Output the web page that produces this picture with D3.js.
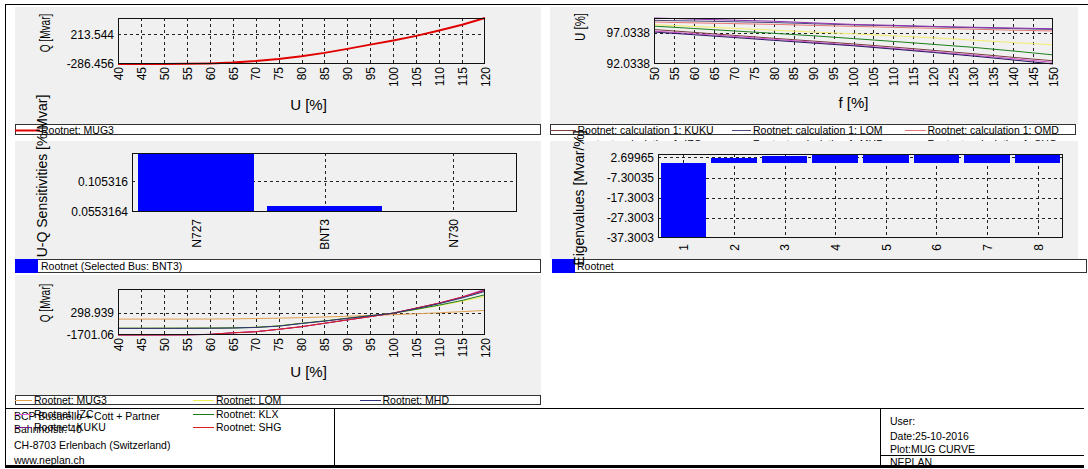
<!DOCTYPE html>
<html>
<head>
<meta charset="utf-8">
<script src="https://cdn.jsdelivr.net/npm/d3@7"></script>
<style>
  html, body { margin: 0; padding: 0; background: #fff; }
  svg { display: block; }
</style>
</head>
<body>
<svg id="sheet" width="1088" height="469"></svg>
<script>
// ---------- data ----------
// Q(U) curve of MUG3 (top-left), U in %
const uSteps = [40,45,50,55,60,65,70,75,80,85,90,95,100,105,110,115,120];
const qMUG3  = [-286.456,-286,-285,-283,-276,-262,-236,-200,-155,-98,-30,42,112,190,280,380,493];
const qTicksMUG3 = [-286.456, 213.544];

// U(f) at several buses (top-right), f in %
const fSteps = [50,60,70,80,90,100,110,120,130,140,150];
const fTicks = [50,55,60,65,70,75,80,85,90,95,100,105,110,115,120,125,130,135,140,145,150];
const vKUKU = [97.55,97.10,96.62,96.15,95.70,95.25,94.75,94.22,93.68,93.10,92.55];
const vLOM  = [99.02,98.92,98.80,98.67,98.48,98.29,98.15,97.99,97.84,97.70,97.57];
const vOMD  = [98.76,98.62,98.50,98.38,98.22,98.06,97.90,97.75,97.60,97.45,97.32];
const vIZC  = [97.30,96.88,96.45,96.00,95.52,95.05,94.55,94.00,93.45,92.88,92.30];
const vKLX  = [98.10,97.72,97.33,96.95,96.55,96.10,95.65,95.18,94.70,94.12,93.50];
const vMHD  = [97.15,96.72,96.28,95.82,95.38,94.95,94.42,93.88,93.30,92.68,92.0338];
const vMUG3 = [98.32,98.05,97.75,97.45,97.15,96.87,96.55,96.22,95.85,95.48,95.10];
const vSHG  = [99.40,99.22,99.05,98.88,98.62,98.37,98.22,98.05,97.92,97.80,97.68];
const uTicksF = [92.0338, 97.0338];

// U-Q sensitivities (mid-left)
const busNames   = ["N727","BNT3","N730"];
const sensValues = [0.1517, 0.0656, 0.0553164];
const sensTicks  = [0.0553164, 0.105316];

// Eigenvalues (mid-right)
const modeNames   = ["1","2","3","4","5","6","7","8"];
const eigenValues = [-37.3003, 2.45, 3.15, 3.7, 4.3, 4.32, 4.34, 4.36];
const eigenTicks  = [-37.3003, -27.3003, -17.3003, -7.30035, 2.69965];

// Q(U) curves of all generators (bottom-left)
const qLOM  = [-1090,-1090,-1088,-1085,-1078,-1060,-1010,-890,-650,-440,-200,30,245,570,920,1310,1735];
const qMHD  = [-1110,-1110,-1108,-1105,-1098,-1080,-1030,-910,-675,-465,-220,15,240,640,1090,1600,2183];
const qIZC  = [-1690,-1690,-1688,-1680,-1640,-1500,-1405,-1190,-957,-652,-355,-60,250,700,1150,1700,2398];
const qKLX  = [-1100,-1100,-1098,-1095,-1088,-1070,-1020,-900,-660,-450,-210,25,245,590,960,1380,1887];
const qKUKU = [-1701.06,-1700,-1697,-1688,-1650,-1510,-1412,-1198,-965,-660,-360,-63,248,690,1130,1660,2320];
const qSHG  = [-1695,-1695,-1692,-1684,-1645,-1505,-1408,-1194,-961,-656,-358,-62,246,695,1140,1680,2260];
const qTicksAll = [-1701.06, 298.939];

// ---------- drawing helpers ----------
const FONT = "'Liberation Sans', Arial, Helvetica, sans-serif";
const PANEL_BG = "#f0f0f0";
const LEGEND_SIZE = 10.5;
const svg = d3.select("#sheet").attr("font-family", FONT);

const layerFooter = svg.append("g");
const layerPanels = svg.append("g");
const layerTitles = svg.append("g");

function panelBg(x0, y0, x1, y1) {
  layerPanels.append("rect").attr("x", x0).attr("y", y0)
    .attr("width", x1 - x0).attr("height", y1 - y0).attr("fill", PANEL_BG);
}

function dashed(g, x1, y1, x2, y2) {
  g.append("line").attr("x1", x1).attr("y1", y1).attr("x2", x2).attr("y2", y2)
    .attr("stroke", "#222").attr("stroke-dasharray", "3,3").attr("shape-rendering", "crispEdges");
}

function grid(g, x, y, xVals, yVals, box) {
  xVals.forEach(v => dashed(g, Math.round(x(v)) + 0.5, box.y0, Math.round(x(v)) + 0.5, box.y1));
  yVals.forEach(v => dashed(g, box.x0, Math.round(y(v)) + 0.5, box.x1, Math.round(y(v)) + 0.5));
}

function frame(g, box) {
  g.append("rect").attr("x", box.x0 + 0.5).attr("y", box.y0 + 0.5)
    .attr("width", box.x1 - box.x0 - 1).attr("height", box.y1 - box.y0 - 1)
    .attr("fill", "none").attr("stroke", "#111").attr("shape-rendering", "crispEdges");
}

function yAxis(g, y, ticks, box) {
  const ax = d3.axisLeft(y).tickValues(ticks).tickSize(0).tickPadding(4).tickFormat(d => String(d));
  const a = g.append("g").attr("transform", `translate(${box.x0},0)`).call(ax);
  a.select(".domain").remove();
  a.selectAll("text").attr("font-size", 12).attr("font-family", FONT).attr("fill", "#000");
}

function rotateTickLabels(a, pad) {
  a.select(".domain").remove();
  a.selectAll("text")
    .attr("font-size", 12).attr("font-family", FONT).attr("fill", "#000")
    .attr("text-anchor", "end")
    .attr("transform", `translate(0,${pad}) rotate(-90)`)
    .attr("x", 0).attr("y", 0).attr("dy", "0.36em");
}

function xTitle(g, text, cx, baseline) {
  g.append("text").attr("x", cx).attr("y", baseline).attr("text-anchor", "middle")
    .attr("font-size", 15).attr("fill", "#000").text(text);
}

// vertical axis title; sx squeezes the text along its reading direction
function yTitle(text, bx, cy, size, sx) {
  layerTitles.append("text")
    .attr("transform", `translate(${bx},${cy}) rotate(-90) scale(${sx},1)`)
    .attr("text-anchor", "middle").attr("font-size", size).attr("fill", "#000").text(text);
}

function legendBox(x0, y0, x1, y1) {
  layerPanels.append("rect").attr("x", x0 + 0.5).attr("y", y0 + 0.5)
    .attr("width", x1 - x0 - 1).attr("height", y1 - y0 - 1)
    .attr("fill", "#fff").attr("stroke", "#333").attr("shape-rendering", "crispEdges");
}

// entries: {label, color, width, col, row}; cols: [{lx0, lx1, tx}]
function lineLegend(entries, cols, rowCenter0, rowStep) {
  entries.forEach(e => {
    const c = cols[e.col];
    const cy = rowCenter0 + e.row * rowStep;
    layerPanels.append("line").attr("x1", c.lx0).attr("x2", c.lx1)
      .attr("y1", Math.round(cy) + 0.5).attr("y2", Math.round(cy) + 0.5)
      .attr("stroke", e.color).attr("stroke-width", e.width || 1);
    layerPanels.append("text").attr("x", c.tx).attr("y", cy + 4)
      .attr("font-size", LEGEND_SIZE).attr("fill", "#000").text(e.label);
  });
}

function linesPlot(box, xDomain, yDomain, xs, series, xTicks, yTicks) {
  const g = layerPanels.append("g");
  const x = d3.scaleLinear().domain(xDomain).range([box.x0, box.x1]);
  const y = d3.scaleLinear().domain(yDomain).range([box.y1, box.y0]);
  grid(g, x, y, xTicks.slice(1, -1), yTicks.filter(v => v !== yDomain[0]), box);
  const line = d3.line().x((d, i) => x(xs[i])).y(d => y(d));
  series.forEach(s => g.append("path").datum(s.values)
    .attr("d", line).attr("fill", "none")
    .attr("stroke", s.color).attr("stroke-width", s.width || 1));
  frame(g, box);
  yAxis(g, y, yTicks, box);
  const a = g.append("g").attr("transform", `translate(0,${box.y1})`)
    .call(d3.axisBottom(x).tickValues(xTicks).tickSize(0).tickFormat(d => String(d)));
  rotateTickLabels(a, 3);
  return g;
}

function barsPlot(box, cats, vals, yTicks, pad) {
  const g = layerPanels.append("g");
  const xc = d3.scalePoint().domain(cats).range([box.x0, box.x1]).padding(0.5);
  const y = d3.scaleLinear().domain(d3.extent(vals)).range([box.y1, box.y0]).clamp(true);
  const ext = y.domain();
  // dashed grid at the category centres and at the inner y ticks
  cats.forEach(c => dashed(g, Math.round(xc(c)) + 0.5, box.y0, Math.round(xc(c)) + 0.5, box.y1));
  yTicks.filter(v => v !== ext[0])
    .forEach(v => dashed(g, box.x0, Math.round(y(v)) + 0.5, box.x1, Math.round(y(v)) + 0.5));
  const base = y(0);
  const bw = xc.step() * 0.9;
  g.selectAll("rect.bar").data(vals).enter().append("rect").attr("class", "bar")
    .attr("x", (d, i) => xc(cats[i]) - bw / 2)
    .attr("width", bw)
    .attr("y", d => Math.min(y(d), base))
    .attr("height", d => Math.abs(y(d) - base))
    .attr("fill", "#0000ff").attr("shape-rendering", "crispEdges");
  frame(g, box);
  yAxis(g, y, yTicks, box);
  const a = g.append("g").attr("transform", `translate(0,${box.y1})`)
    .call(d3.axisBottom(xc).tickSize(0));
  rotateTickLabels(a, pad);
  return g;
}

// ---------- footer (title block) ----------
(function footer() {
  const f = layerFooter;
  const L = (x1, y1, x2, y2, w) => f.append("line").attr("x1", x1).attr("y1", y1)
    .attr("x2", x2).attr("y2", y2).attr("stroke", "#000").attr("stroke-width", w || 1)
    .attr("shape-rendering", "crispEdges");
  L(5, 4.5, 1088, 4.5, 1.5);      // sheet top
  L(5.5, 4, 5.5, 467, 1.5);       // sheet left
  L(5, 408.5, 1084, 408.5);       // block top
  L(334.5, 408, 334.5, 467);
  L(880.5, 408, 880.5, 467);
  L(880, 455.5, 1084, 455.5);
  L(5, 466.5, 1084, 466.5, 2.5);  // sheet bottom
  const T = (x, y, s) => f.append("text").attr("x", x).attr("y", y)
    .attr("font-size", 10.5).attr("fill", "#000").text(s);
  T(14, 420, "BCP Busarello + Cott + Partner");
  T(14, 433, "Bahnhofstr. 40");
  T(14, 449, "CH-8703 Erlenbach (Switzerland)");
  T(14, 464, "www.neplan.ch");
  T(890, 425, "User:");
  T(890, 440, "Date:25-10-2016");
  T(890, 453, "Plot:MUG CURVE");
  T(890, 465.5, "NEPLAN");
})();

// ---------- panel A: Q(U) of MUG3 ----------
panelBg(15, 7, 541, 124);
const boxA = {x0: 118, x1: 485, y0: 18, y1: 64};
const gA = linesPlot(boxA, [40, 120], d3.extent(qMUG3), uSteps,
  [{values: qMUG3, color: "#e00000", width: 2}], uSteps, qTicksMUG3);
xTitle(gA, "U [%]", (boxA.x0 + boxA.x1) / 2 + 7, 110);
legendBox(15, 124, 541, 135);
lineLegend([{label: "Rootnet: MUG3", color: "#e00000", width: 2, col: 0, row: 0}],
  [{lx0: 15, lx1: 40, tx: 41}], 129.5, 14.5);

// ---------- panel B: U(f) ----------
panelBg(550, 7, 1078, 124);
const boxB = {x0: 654, x1: 1053, y0: 18, y1: 64};
const seriesB = [
  {name: "Rootnet: calculation 1: KUKU", values: vKUKU, color: "#7a3c3c", col: 0, row: 0},
  {name: "Rootnet: calculation 1: IZC",  values: vIZC,  color: "#d050d0", col: 0, row: 1},
  {name: "Rootnet: calculation 1: KLX",  values: vKLX,  color: "#1a801a", col: 0, row: 2},
  {name: "Rootnet: calculation 1: LOM",  values: vLOM,  color: "#4a4a80", col: 1, row: 0},
  {name: "Rootnet: calculation 1: MHD",  values: vMHD,  color: "#2a1860", col: 1, row: 1},
  {name: "Rootnet: calculation 1: MUG3", values: vMUG3, color: "#f2ee6a", col: 1, row: 2},
  {name: "Rootnet: calculation 1: OMD",  values: vOMD,  color: "#e87878", col: 2, row: 0},
  {name: "Rootnet: calculation 1: SHG",  values: vSHG,  color: "#9030b0", col: 2, row: 1}
];
const gB = linesPlot(boxB, [50, 150], d3.extent(seriesB.flatMap(s => s.values)), fSteps,
  seriesB, fTicks, uTicksF);
xTitle(gB, "f [%]", (boxB.x0 + boxB.x1) / 2, 108);
legendBox(550, 124, 1076, 135);
lineLegend(seriesB.map(s => ({label: s.name, color: s.color, col: s.col, row: s.row})),
  [{lx0: 550, lx1: 576, tx: 577.5}, {lx0: 732, lx1: 751, tx: 753}, {lx0: 905, lx1: 926, tx: 927.5}],
  129.5, 14.5);

// ---------- panel C: U-Q sensitivities ----------
panelBg(15, 141, 541, 259);
const boxC = {x0: 132, x1: 517, y0: 153, y1: 212};
barsPlot(boxC, busNames, sensValues, sensTicks, 7);
legendBox(15, 259, 541, 273);
layerPanels.append("rect").attr("x", 15).attr("y", 259).attr("width", 23).attr("height", 14).attr("fill", "#0000ff");
layerPanels.append("text").attr("x", 41).attr("y", 270).attr("font-size", LEGEND_SIZE).text("Rootnet (Selected Bus: BNT3)");

// ---------- panel D: eigenvalues ----------
panelBg(550, 141, 1078, 259);
const boxD = {x0: 658, x1: 1063, y0: 154, y1: 238};
barsPlot(boxD, modeNames, eigenValues, eigenTicks, 6);
legendBox(552, 259, 1087, 273);
layerPanels.append("rect").attr("x", 552).attr("y", 259).attr("width", 23).attr("height", 14).attr("fill", "#0000ff");
layerPanels.append("text").attr("x", 577).attr("y", 270).attr("font-size", LEGEND_SIZE).text("Rootnet");

// ---------- panel E: Q(U) of all generators ----------
panelBg(15, 275, 541, 395);
const boxE = {x0: 118, x1: 485, y0: 289, y1: 335};
const seriesE = [
  {name: "Rootnet: MUG3", values: qMUG3, color: "#e0a050", col: 0, row: 0},
  {name: "Rootnet: IZC",  values: qIZC,  color: "#e060e0", col: 0, row: 1},
  {name: "Rootnet: KUKU", values: qKUKU, color: "#7a1a8a", col: 0, row: 2},
  {name: "Rootnet: LOM",  values: qLOM,  color: "#eeee50", col: 1, row: 0},
  {name: "Rootnet: KLX",  values: qKLX,  color: "#1a7a1a", col: 1, row: 1},
  {name: "Rootnet: SHG",  values: qSHG,  color: "#e02020", col: 1, row: 2},
  {name: "Rootnet: MHD",  values: qMHD,  color: "#303078", col: 2, row: 0}
];
const gE = linesPlot(boxE, [40, 120], d3.extent(seriesE.flatMap(s => s.values)), uSteps,
  seriesE, uSteps, qTicksAll);
xTitle(gE, "U [%]", (boxE.x0 + boxE.x1) / 2 + 7, 377);
legendBox(15, 395, 541, 405);
lineLegend(seriesE.map(s => ({label: s.name, color: s.color, col: s.col, row: s.row})),
  [{lx0: 15, lx1: 32, tx: 34}, {lx0: 193, lx1: 214, tx: 216}, {lx0: 360, lx1: 381, tx: 382.5}],
  400, 13.5);

// ---------- vertical axis titles (drawn over everything) ----------
yTitle("Q [Mvar]", 50, 33, 14, 0.72);
yTitle("U [%]", 585, 27, 14, 0.82);
yTitle("U-Q Sensitivities [%/Mvar]", 47, 176, 14, 1);
yTitle("Eigenvalues [Mvar/%]", 584, 198, 14, 1);
yTitle("Q [Mvar]", 50, 303, 14, 0.72);
</script>
</body>
</html>
